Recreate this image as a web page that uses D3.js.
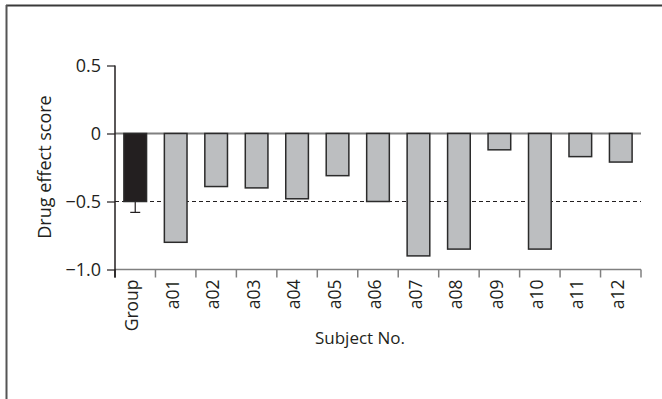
<!DOCTYPE html>
<html><head><meta charset="utf-8">
<script src="https://cdn.jsdelivr.net/npm/d3@7"></script>
<style>body{margin:0;background:#fff}svg{display:block}text{font-family:"Open Sans",sans-serif;fill:#231f20}</style>
</head><body><svg id="c" width="662" height="399"></svg>
<script>
const categories = ["Group","a01","a02","a03","a04","a05","a06","a07","a08","a09","a10","a11","a12"];
const values = [-0.50,-0.80,-0.39,-0.40,-0.48,-0.31,-0.50,-0.90,-0.85,-0.12,-0.85,-0.17,-0.21];
const groupError = 0.08;
const yTicks = [0.5, 0, -0.5, -1.0];
const yTickLabels = ["0.5","0","\u22120.5","\u22121.0"];
const refLine = -0.5;

const svg = d3.select("#c");
svg.append("line").attr("x1",6).attr("x2",662).attr("y1",5.5).attr("y2",5.5).attr("stroke","#3a3a3a").attr("stroke-width",2);
svg.append("line").attr("x1",6.5).attr("x2",6.5).attr("y1",5).attr("y2",399).attr("stroke","#555").attr("stroke-width",2);

const x = d3.scaleBand().domain(categories).range([115,641]).paddingInner(0.44).paddingOuter(0.22);
const y = d3.scaleLinear().domain([-1,0.5]).range([269.5,65.5]);

const g = svg.append("g");
g.append("line").attr("x1",115).attr("x2",641).attr("y1",y(-1)).attr("y2",y(-1)).attr("stroke","#808080").attr("stroke-width",1.5);
const step = x.step();
const bounds = d3.range(categories.length+1).map(i => 115 + i*step);
g.selectAll(".xt").data(bounds).join("line").attr("x1",d=>d).attr("x2",d=>d)
  .attr("y1",y(-1)).attr("y2",y(-1)+8).attr("stroke",(d,i)=>i===0?"#231f20":"#808080").attr("stroke-width",1.5);

g.append("line").attr("x1",115).attr("x2",641).attr("y1",y(0)).attr("y2",y(0)).attr("stroke","#808080").attr("stroke-width",2);

g.append("line").attr("x1",115).attr("x2",641).attr("y1",y(refLine)).attr("y2",y(refLine))
  .attr("stroke","#231f20").attr("stroke-width",1).attr("stroke-dasharray","4,3");

const gc = x("Group") + x.bandwidth()/2;
g.append("line").attr("x1",gc).attr("x2",gc).attr("y1",y(values[0])).attr("y2",y(values[0]-groupError)).attr("stroke","#231f20").attr("stroke-width",1.2);
g.append("line").attr("x1",gc-5).attr("x2",gc+5).attr("y1",y(values[0]-groupError)).attr("y2",y(values[0]-groupError)).attr("stroke","#231f20").attr("stroke-width",1.2);

g.selectAll(".bar").data(categories).join("rect")
  .attr("x",d=>x(d)).attr("width",x.bandwidth())
  .attr("y",(d,i)=>y(Math.max(0,values[i]))).attr("height",(d,i)=>Math.abs(y(values[i])-y(0)))
  .attr("fill",(d,i)=>i===0?"#231f20":"#bcbec0").attr("stroke","#2b2b2b").attr("stroke-width",1.5);

const ya = svg.append("g").attr("transform","translate(115,0)")
  .call(d3.axisLeft(y).tickValues(yTicks).tickSize(8).tickFormat((d,i)=>yTickLabels[i]));
ya.select(".domain").attr("d",`M0,${y(0.5)}V${y(-1)+8}`).attr("stroke","#231f20").attr("stroke-width",1.5);
ya.selectAll(".tick line").attr("stroke","#231f20").attr("stroke-width",1.2);
ya.selectAll(".tick text").attr("x",-14).attr("font-size",18).attr("font-family","Open Sans").attr("fill","#231f20");

svg.selectAll(".xl").data(categories).join("text")
  .attr("transform",d=>`translate(${x(d)+x.bandwidth()/2-3},${y(-1)+10}) rotate(-90)`)
  .attr("text-anchor","end").attr("dy","0.35em").attr("font-size",17.5).text(d=>d);

svg.append("text").attr("x",360).attr("y",344).attr("text-anchor","middle").attr("font-size",17).text("Subject No.");
svg.append("text").attr("transform","translate(51,167) rotate(-90)").attr("text-anchor","middle").attr("font-size",18).text("Drug effect score");
</script></body></html>
